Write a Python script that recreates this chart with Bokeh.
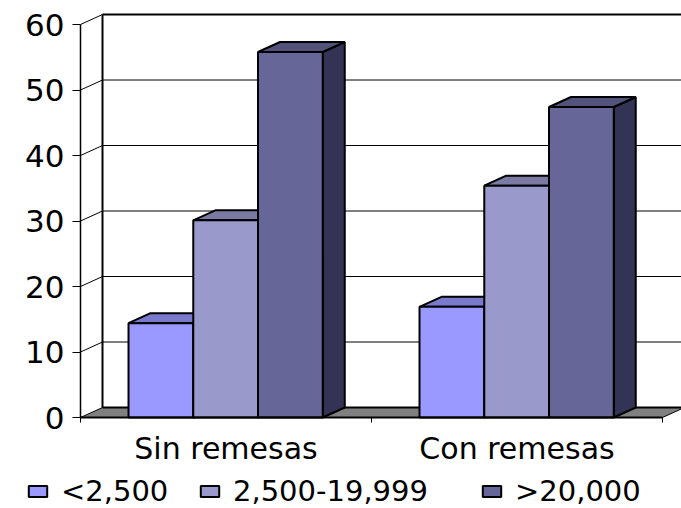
from bokeh.embed import file_html
from bokeh.resources import INLINE
from bokeh.plotting import figure
from bokeh.models import (Range1d, LinearAxis, FixedTicker, Legend, LegendItem)

categories = ["Sin remesas", "Con remesas"]
series_names = ["<2,500", "2,500-19,999", ">20,000"]
values_low = [14.4, 16.9]
values_mid = [30.1, 35.4]
values_high = [55.8, 47.4]
series_values = [values_low, values_mid, values_high]
y_ticks = [0, 10, 20, 30, 40, 50, 60]

front_colors = ["#9999FF", "#9999CC", "#666699"]
top_colors = ["#7A7ACC", "#7A7AA3", "#52527A"]
side_colors = ["#4D4D80", "#4D4D66", "#333355"]

PX_PER_CAT = 291.0
PX_PER_UNIT = 6.55
DX = 22 / PX_PER_CAT
DY = 10 / PX_PER_UNIT
BAR_W = 0.2225
GROUP_START = 0.165
FONT = "DejaVu Sans"

p = figure(width=681, height=508, output_backend="svg", toolbar_location=None,
           x_range=Range1d(-80 / PX_PER_CAT, 601 / PX_PER_CAT),
           y_range=Range1d(-91 / PX_PER_UNIT, 417 / PX_PER_UNIT),
           x_axis_location=None, y_axis_location=None,
           min_border_left=0, min_border_right=0, min_border_top=0, min_border_bottom=0,
           outline_line_color=None, background_fill_color="white", margin=0)
p.grid.visible = False

n_cat = len(categories)
xmax = 601 / PX_PER_CAT + 0.2

# floor
p.patch([0, DX, n_cat + DX, n_cat], [0, DY, DY, 0],
        fill_color="#808080", line_color="black", line_width=1)

# back wall and gridlines
p.segment(x0=[DX] * len(y_ticks[1:-1]), y0=[t + DY for t in y_ticks[1:-1]],
          x1=[xmax] * len(y_ticks[1:-1]), y1=[t + DY for t in y_ticks[1:-1]],
          line_color="black", line_width=1)
p.segment(x0=[0] * len(y_ticks[1:]), y0=y_ticks[1:],
          x1=[DX] * len(y_ticks[1:]), y1=[t + DY for t in y_ticks[1:]],
          line_color="black", line_width=1)
p.segment(x0=[DX, DX, DX], y0=[DY, DY, y_ticks[-1] + DY],
          x1=[DX, xmax, xmax], y1=[y_ticks[-1] + DY, DY, y_ticks[-1] + DY],
          line_color="black", line_width=2)

# bars
front_renderers = []
for s, vals in enumerate(series_values):
    lefts = [c + GROUP_START + s * BAR_W for c in range(n_cat)]
    rights = [l + BAR_W for l in lefts]
    p.patches(xs=[[r, r + DX, r + DX, r] for r in rights],
              ys=[[0, DY, v + DY, v] for v in vals],
              fill_color=side_colors[s], line_color="black", line_width=2)
    p.patches(xs=[[l, l + DX, r + DX, r] for l, r in zip(lefts, rights)],
              ys=[[v, v + DY, v + DY, v] for v in vals],
              fill_color=top_colors[s], line_color="black", line_width=2)
    q = p.quad(left=lefts, right=rights, bottom=[0] * n_cat, top=vals,
               fill_color=front_colors[s], line_color="black", line_width=2)
    front_renderers.append(q)

# axes
yaxis = LinearAxis(ticker=FixedTicker(ticks=y_ticks), bounds=(0, 60), fixed_location=0)
yaxis.axis_line_color = "black"
yaxis.axis_line_width = 1.5
yaxis.major_tick_in = 0
yaxis.major_tick_out = 8
yaxis.major_tick_line_color = "black"
yaxis.minor_tick_line_color = None
yaxis.major_label_standoff = 8
yaxis.major_label_text_font = FONT
yaxis.major_label_text_font_size = "31px"
yaxis.major_label_text_color = "black"
p.add_layout(yaxis, "left")

centers = [c + 0.5 for c in range(n_cat)]
xaxis = LinearAxis(ticker=FixedTicker(ticks=centers, minor_ticks=list(range(n_cat + 1))),
                   bounds=(0, n_cat), fixed_location=0)
xaxis.major_label_overrides = {c: name for c, name in zip(centers, categories)}
xaxis.axis_line_color = "black"
xaxis.axis_line_width = 2
xaxis.major_tick_line_color = None
xaxis.major_tick_in = 0
xaxis.major_tick_out = 0
xaxis.minor_tick_line_color = "black"
xaxis.minor_tick_in = 0
xaxis.minor_tick_out = 5
xaxis.major_label_standoff = 8
xaxis.major_label_text_font = FONT
xaxis.major_label_text_font_size = "30px"
xaxis.major_label_text_color = "black"
p.add_layout(xaxis, "below")

# legend blocks under the axis, one per series
legend_x = [26, 198, 480]
for name, rend, lx in zip(series_names, front_renderers, legend_x):
    lg = Legend(items=[LegendItem(label=name, renderers=[rend])], location=(lx, 0),
                orientation="horizontal", border_line_color=None,
                background_fill_alpha=0, padding=0, margin=0,
                glyph_width=23, glyph_height=14, label_standoff=12,
                label_text_font=FONT, label_text_font_size="29px",
                label_text_color="black")
    p.add_layout(lg, "center")

open("out.html", "w").write(file_html(p, INLINE))
